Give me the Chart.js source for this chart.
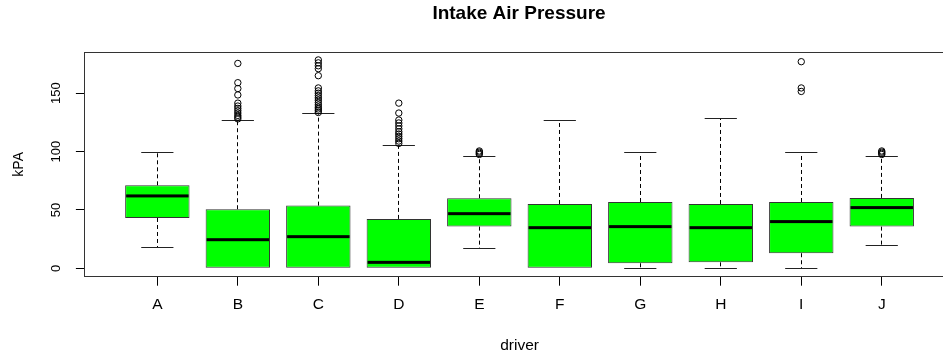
<!DOCTYPE html>
<html><head><meta charset="utf-8">
<script src="https://cdn.jsdelivr.net/npm/chart.js@4"></script>
<style>
html,body{margin:0;padding:0;background:#fff;overflow:hidden;width:943px;height:356px}
#wrap{width:1038px;height:356px}
canvas{display:block}
</style>
</head><body><div id="wrap"><canvas id="c" width="1038" height="356"></canvas></div>
<script>
// ---- data ----
const categories   = ['A','B','C','D','E','F','G','H','I','J'];
const lowerWhisker = [18.0, 0, 0, 0, 16.8, 0, 0, 0, 0, 19.4];
const q1           = [43.1, 0, 0, 0, 35.7, 0, 4.3, 5.1, 12.9, 35.7];
const median       = [62.0, 24.5, 27.1, 5.1, 46.8, 34.8, 35.7, 34.8, 40.0, 52.0];
const q3           = [71.1, 50.6, 53.7, 42.3, 60.0, 55.1, 56.8, 55.1, 56.8, 60.3];
const upperWhisker = [99.1, 126.5, 132.3, 105.1, 95.7, 126.5, 99.1, 128.0, 99.1, 95.7];
const outA = [];
const outB = [175.5, 159, 154, 148.5, 141.5, 139, 137, 135, 133, 131, 129.5, 128];
const outC = [178.5, 176, 173.5, 171, 165, 154.5, 152, 150, 148, 146, 144, 142, 140, 138, 136.5, 135, 133.5];
const outD = [141.5, 133, 127, 124.5, 122, 119.5, 117, 115, 113, 111, 109, 107];
const outE = [100.5, 99.5, 98.5, 97.5];
const outF = [];
const outG = [];
const outH = [];
const outI = [177, 154.5, 151.5];
const outJ = [100.5, 99.5, 98.5, 97.5];
const outliers = [outA, outB, outC, outD, outE, outF, outG, outH, outI, outJ];
const yTicks = [0, 50, 100, 150];

// ---- chart ----
const FONT = "'Liberation Sans', Arial, sans-serif";
Chart.defaults.font.family = FONT;
Chart.defaults.color = '#000';

const boxData = categories.map((c, i) => ({ x: i + 1, y: [q1[i], q3[i]] }));
const outData = [];
outliers.forEach((arr, i) => arr.forEach(v => outData.push({ x: i + 1, y: v })));

const boxParts = {
  id: 'boxParts',
  beforeDatasetsDraw(chart) {
    const xs = chart.scales.x, ys = chart.scales.y, ctx = chart.ctx;
    ctx.save();
    ctx.lineWidth = 1;
    categories.forEach((c, i) => {
      const xc = xs.getPixelForValue(i + 1);
      const xl = Math.floor(xc) + 0.5;
      const hc = xs.getPixelForValue(i + 1.2) - xc;
      // dashed whiskers
      ctx.strokeStyle = '#000';
      ctx.setLineDash([4, 3]);
      ctx.beginPath();
      ctx.moveTo(xl, ys.getPixelForValue(q3[i]));
      ctx.lineTo(xl, ys.getPixelForValue(upperWhisker[i]));
      if (lowerWhisker[i] < q1[i]) {
        ctx.moveTo(xl, ys.getPixelForValue(q1[i]));
        ctx.lineTo(xl, ys.getPixelForValue(lowerWhisker[i]));
      }
      ctx.stroke();
      // staples
      ctx.setLineDash([]);
      ctx.strokeStyle = '#222';
      ctx.beginPath();
      const caps = [upperWhisker[i]];
      if (lowerWhisker[i] < q1[i]) caps.push(lowerWhisker[i]);
      caps.forEach(v => {
        const yy = Math.floor(ys.getPixelForValue(v)) + 0.5;
        ctx.moveTo(xc - hc, yy);
        ctx.lineTo(xc + hc, yy);
      });
      ctx.stroke();
    });
    ctx.restore();
  },
  afterDatasetDraw(chart, args) {
    if (args.index !== 0) return;
    const xs = chart.scales.x, ys = chart.scales.y, ctx = chart.ctx;
    ctx.save();
    ctx.fillStyle = '#000';
    categories.forEach((c, i) => {
      const x0 = xs.getPixelForValue(i + 1 - 0.4) + 1;
      const x1 = xs.getPixelForValue(i + 1 + 0.4) - 1;
      const y = ys.getPixelForValue(median[i]);
      ctx.fillRect(x0, y - 1.5, x1 - x0, 3);
    });
    ctx.restore();
  },
  afterDraw(chart) {
    const a = chart.chartArea, ctx = chart.ctx;
    ctx.save();
    ctx.strokeStyle = '#333';
    ctx.lineWidth = 1;
    const l = Math.floor(a.left) + 0.5, t = Math.floor(a.top) + 0.5;
    const b = Math.floor(a.bottom) + 0.5, r = Math.floor(a.right) + 0.5;
    ctx.strokeRect(l, t, r - l, b - t);
    ctx.restore();
  }
};

new Chart(document.getElementById('c'), {
  type: 'bar',
  data: {
    datasets: [
      {
        type: 'bar',
        data: boxData,
        backgroundColor: '#00FF00',
        borderColor: '#333',
        borderWidth: 1,
        borderSkipped: false,
        categoryPercentage: 1,
        barPercentage: 0.8
      },
      {
        type: 'scatter',
        data: outData,
        showLine: false,
        pointStyle: 'circle',
        pointRadius: 3.2,
        pointBorderWidth: 1,
        pointBorderColor: '#000',
        pointBackgroundColor: 'rgba(0,0,0,0)'
      }
    ]
  },
  options: {
    responsive: false,
    devicePixelRatio: 1,
    animation: false,
    events: [],
    layout: { padding: 0 },
    plugins: {
      legend: { display: false },
      tooltip: { enabled: false },
      title: {
        display: true,
        text: 'Intake Air Pressure',
        color: '#000',
        font: { size: 19, weight: 'bold', family: FONT },
        padding: { top: 2.6, bottom: 26.6 }
      }
    },
    scales: {
      x: {
        type: 'linear',
        position: 'bottom',
        min: 0.1, max: 10.9,
        offset: false,
        afterBuildTicks: s => { s.ticks = categories.map((c, i) => ({ value: i + 1 })); },
        afterFit: s => { s.height = 79.3; },
        ticks: {
          callback: v => categories[Math.round(v) - 1] || '',
          font: { size: 15.5 },
          padding: 9.5,
          maxRotation: 0, minRotation: 0,
          autoSkip: false,
          color: '#000'
        },
        grid: { offset: false, drawOnChartArea: false, drawTicks: true, tickLength: 9, color: '#000' },
        border: { display: false },
        title: { display: true, text: 'driver', color: '#000', font: { size: 15.5 }, padding: { top: 0, bottom: 1.4 } }
      },
      y: {
        type: 'linear',
        position: 'left',
        min: -7.2, max: 185.3,
        afterBuildTicks: s => { s.ticks = yTicks.map(v => ({ value: v })); },
        afterFit: s => { s.width = 84.9; },
        ticks: {
          font: { size: 13 },
          padding: 8.7,
          minRotation: 90, maxRotation: 90,
          crossAlign: 'center',
          color: '#000'
        },
        grid: { drawOnChartArea: false, drawTicks: true, tickLength: 9, color: '#000' },
        border: { display: false },
        title: { display: true, text: 'kPA', color: '#000', font: { size: 14 }, padding: { top: 10.3, bottom: 0 } }
      },
      y2: {
        type: 'linear',
        position: 'right',
        display: true,
        afterFit: s => { s.width = 83.8; },
        ticks: { display: false },
        grid: { display: false },
        border: { display: false }
      }
    }
  },
  plugins: [boxParts]
});
</script>
</body></html>
